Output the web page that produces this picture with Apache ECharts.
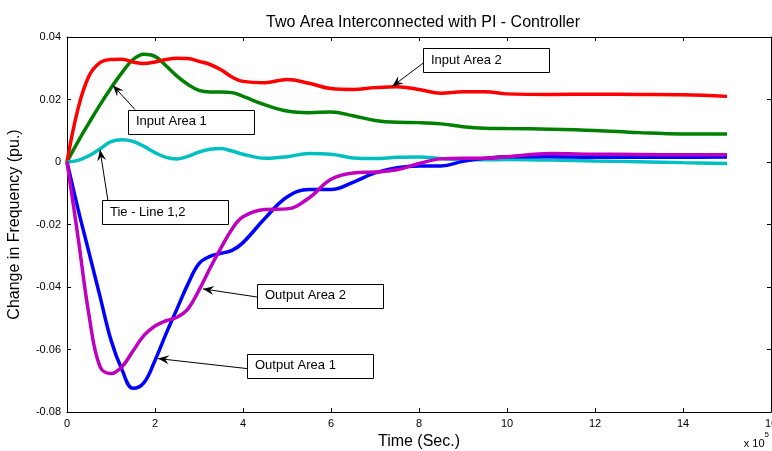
<!DOCTYPE html>
<html>
<head>
<meta charset="utf-8">
<script src="https://cdn.jsdelivr.net/npm/echarts@6/dist/echarts.min.js"></script>
<style>
html, body { margin: 0; padding: 0; background: #fff; }
#container { width: 772px; height: 451px; }
</style>
</head>
<body>
<div id="container"></div>
<script>
// time in units of 1e5 s
const time = [0, 0.25, 0.5, 0.75, 1.0, 1.25, 1.5, 1.75, 2.0, 2.25, 2.5, 2.75, 3.0, 3.25, 3.5, 3.75, 4.0,
    4.5, 5.0, 5.5, 6.0, 6.5, 7.0, 7.5, 8.0, 8.5, 9.0, 9.5, 10, 11, 12, 13, 14, 15];

const inputArea2 = [0, 0.017, 0.0275, 0.0318, 0.0328, 0.0329, 0.032, 0.0315, 0.032, 0.0328, 0.0332, 0.0331, 0.0322,
    0.0312, 0.0295, 0.0272, 0.0258, 0.0254, 0.0264, 0.0252, 0.0235, 0.0232, 0.0238, 0.0241, 0.0232, 0.022, 0.0225,
    0.0225, 0.0218, 0.0216, 0.0217, 0.0216, 0.0215, 0.021];

const inputArea1 = [0, 0.0065, 0.0125, 0.0183, 0.0237, 0.0286, 0.0328, 0.0345, 0.0338, 0.0308, 0.0275, 0.0248,
    0.0229, 0.0224, 0.0224, 0.0222, 0.021, 0.0183, 0.0163, 0.0158, 0.016, 0.0148, 0.0133, 0.0127, 0.0126, 0.0122,
    0.0113, 0.0108, 0.0107, 0.0105, 0.0101, 0.0094, 0.009, 0.009];

const tieLine = [0, 0.0005, 0.002, 0.0042, 0.0065, 0.0071, 0.0066, 0.005, 0.003, 0.0015, 0.001, 0.0018, 0.0032,
    0.0041, 0.0043, 0.0035, 0.0025, 0.0012, 0.0017, 0.0027, 0.0025, 0.0013, 0.0011, 0.0015, 0.0016, 0.0011,
    0.0007, 0.0007, 0.0008, 0.0006, 0.0003, 0.0001, -0.0002, -0.0005];

const outputArea1 = [0, -0.015, -0.029, -0.043, -0.057, -0.0665, -0.0724, -0.0706, -0.0635, -0.055, -0.047, -0.039,
    -0.0325, -0.0302, -0.0292, -0.0283, -0.0258, -0.018, -0.0112, -0.0088, -0.0088, -0.0065, -0.0035, -0.0018,
    -0.0013, -0.0013, 0.0002, 0.0012, 0.0017, 0.0017, 0.0015, 0.0015, 0.0015, 0.0016];

const outputArea2 = [0, -0.024, -0.049, -0.0655, -0.0677, -0.0655, -0.0605, -0.0555, -0.0525, -0.0508, -0.0497,
    -0.047, -0.041, -0.034, -0.0275, -0.0215, -0.0175, -0.0152, -0.015, -0.0115, -0.0055, -0.0035, -0.0032,
    -0.0025, -0.0005, 0.001, 0.0012, 0.0012, 0.0017, 0.0027, 0.0025, 0.0024, 0.0023, 0.0023];

const seriesNames = ['Input Area 1', 'Input Area 2', 'Tie - Line 1,2', 'Output Area 1', 'Output Area 2'];
const seriesColors = ['#008000', '#ff0000', '#00bfbf', '#0000ff', '#bf00bf'];

// annotations (data coords): box top-left, arrow tail, arrow tip
const annoLabels = ['Input Area 2', 'Input Area 1', 'Tie - Line 1,2', 'Output Area 2', 'Output Area 1'];
const annoBox = [[8.09, 0.0365], [1.386, 0.0168], [0.795, -0.0123], [4.318, -0.039], [4.09, -0.0613]];
const annoTail = [[8.09, 0.0316], [1.545, 0.0168], [0.93, -0.0123], [4.318, -0.0432], [4.09, -0.0661]];
const annoTip = [[7.39, 0.0242], [1.045, 0.0245], [0.75, 0.0039], [3.09, -0.0406], [2.07, -0.0629]];

const font = 'Liberation Sans, Arial, sans-serif';
const chart = echarts.init(document.getElementById('container'), null, { renderer: 'canvas' });

function pairs(ys) {
    return time.map((t, i) => [t, ys[i]]);
}

const xCommon = {
    type: 'value', min: 0, max: 16, interval: 2,
    axisLine: { show: true, onZero: false, lineStyle: { color: '#000', width: 1 } },
    axisTick: { show: true, inside: true, length: 4, lineStyle: { color: '#000' } },
    splitLine: { show: false }
};
const yCommon = {
    type: 'value', min: -0.08, max: 0.04, interval: 0.02,
    axisLine: { show: true, onZero: false, lineStyle: { color: '#000', width: 1 } },
    axisTick: { show: true, inside: true, length: 4, lineStyle: { color: '#000' } },
    splitLine: { show: false }
};

const option = {
    animation: false,
    backgroundColor: '#fff',
    title: {
        text: 'Two Area Interconnected with PI - Controller',
        left: 418, top: 10, textAlign: 'center',
        textStyle: { fontFamily: font, fontSize: 16, fontWeight: 'normal', color: '#000' }
    },
    grid: { left: 67, right: 1, top: 37, bottom: 39, outerBoundsMode: 'none' },
    xAxis: [
        Object.assign({}, xCommon, {
            position: 'bottom',
            axisLabel: { color: '#000', fontFamily: font, fontSize: 11, margin: 6 },
            name: 'Time (Sec.)', nameLocation: 'middle', nameGap: 22,
            nameTextStyle: { color: '#000', fontFamily: font, fontSize: 16 }
        }),
        Object.assign({}, xCommon, { position: 'top', axisLabel: { show: false } })
    ],
    yAxis: [
        Object.assign({}, yCommon, {
            position: 'left',
            axisLabel: {
                color: '#000', fontFamily: font, fontSize: 11, margin: 6,
                formatter: v => (Math.abs(v) < 1e-9 ? '0' : String(+v.toFixed(2)))
            },
            name: 'Change in Frequency (pu.)', nameLocation: 'middle', nameGap: 44,
            nameTextStyle: { color: '#000', fontFamily: font, fontSize: 16 }
        }),
        Object.assign({}, yCommon, { position: 'right', axisLabel: { show: false } })
    ],
    series: [inputArea1, inputArea2, tieLine, outputArea1, outputArea2].map((ys, i) => ({
        name: seriesNames[i],
        type: 'line',
        xAxisIndex: 0,
        yAxisIndex: 0,
        data: pairs(ys),
        smooth: 0.4,
        showSymbol: false,
        lineStyle: { color: seriesColors[i], width: 3.5 }
    }))
};

chart.setOption(option);

// annotation boxes and arrows
function arrowHead(tip, tail) {
    const ang = Math.atan2(tip[1] - tail[1], tip[0] - tail[0]);
    const len = 11, half = 4.5, back = 7;
    const ux = Math.cos(ang), uy = Math.sin(ang);
    const bx = tip[0] - ux * len, by = tip[1] - uy * len;
    const mx = tip[0] - ux * back, my = tip[1] - uy * back;
    return [tip, [bx - uy * half, by + ux * half], [mx, my], [bx + uy * half, by - ux * half]];
}

const graphics = [];
annoLabels.forEach((label, i) => {
    const toPx = p => chart.convertToPixel({ xAxisIndex: 0, yAxisIndex: 0 }, p);
    const box = toPx(annoBox[i]);
    const tail = toPx(annoTail[i]);
    const tip = toPx(annoTip[i]);
    graphics.push({
        type: 'line', z: 100, silent: true,
        shape: { x1: tail[0], y1: tail[1], x2: tip[0], y2: tip[1] },
        style: { stroke: '#000', lineWidth: 1 }
    });
    graphics.push({
        type: 'polygon', z: 100, silent: true,
        shape: { points: arrowHead(tip, tail) },
        style: { fill: '#000' }
    });
    graphics.push({
        type: 'rect', z: 100, silent: true,
        shape: { x: Math.round(box[0]) + 0.5, y: Math.round(box[1]) + 0.5, width: 126, height: 24 },
        style: { fill: '#fff', stroke: '#000', lineWidth: 1 }
    });
    graphics.push({
        type: 'text', z: 101, silent: true,
        x: box[0] + 8, y: box[1] + 12,
        style: { text: label, fontFamily: font, fontSize: 13, fill: '#000', verticalAlign: 'middle' }
    });
});

graphics.push({
    type: 'text', silent: true, right: 3, bottom: 2,
    style: {
        text: '{b|x 10}{s|5}',
        rich: {
            b: { fontFamily: font, fontSize: 11, fill: '#000', verticalAlign: 'bottom', height: 15 },
            s: { fontFamily: font, fontSize: 8, fill: '#000', verticalAlign: 'top', height: 15, padding: [0, 0, 9, 0] }
        }
    }
});

chart.setOption({ graphic: graphics });
window.addEventListener('resize', chart.resize);
</script>
</body>
</html>
